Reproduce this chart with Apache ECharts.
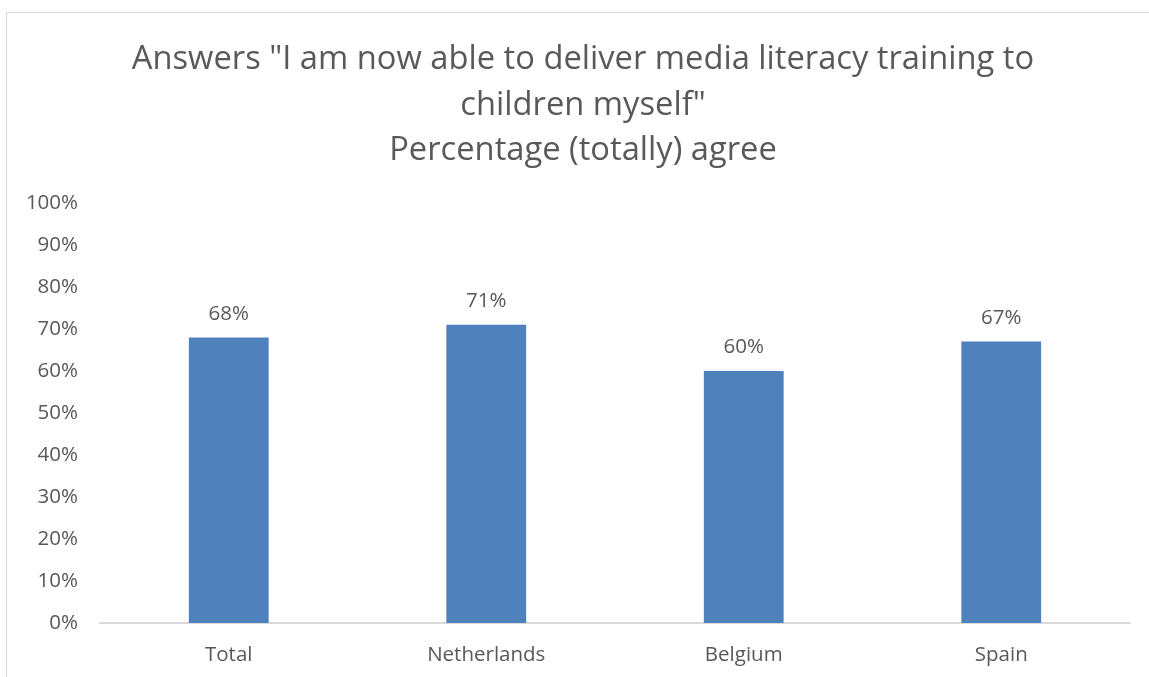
<!DOCTYPE html>
<html>
<head>
<meta charset="utf-8">
<script src="https://cdn.jsdelivr.net/npm/echarts@6/dist/echarts.min.js"></script>
<style>
  html, body { margin: 0; padding: 0; background: #fff; }
  #frame {
    position: absolute; left: 6px; top: 12px; width: 1160px; height: 700px;
    border: 1px solid #d9d9d9; box-sizing: border-box;
  }
  #chart { position: absolute; left: 0; top: 0; width: 1149px; height: 677px; }
</style>
</head>
<body>
<div id="frame"></div>
<div id="chart"></div>
<script>
// categories and values (share that (totally) agree)
const countries = ['Total', 'Netherlands', 'Belgium', 'Spain'];
const agreePct = [68, 71, 60, 67];

const titleLines = [
  'Answers "I am now able to deliver media literacy training to',
  'children myself"',
  'Percentage (totally) agree'
];

const font = '"Open Sans", sans-serif';
const grey = '#595959';
const labelSize = 20.5;

const chart = echarts.init(document.getElementById('chart'));
chart.setOption({
  animation: false,
  textStyle: { fontFamily: font },
  title: {
    text: titleLines.join('\n'),
    left: 578,
    top: 32,
    textAlign: 'center',
    textStyle: { fontFamily: font, fontSize: 32.7, fontWeight: 'normal', color: grey, lineHeight: 45.5 }
  },
  grid: { left: 100, right: 19, top: 203, bottom: 54, containLabel: false },
  xAxis: {
    type: 'category',
    data: countries,
    axisLine: { lineStyle: { color: '#d9d9d9', width: 2 } },
    axisTick: { show: false },
    axisLabel: { color: grey, fontSize: labelSize, margin: 22, fontFamily: font }
  },
  yAxis: {
    type: 'value',
    min: 0,
    max: 100,
    interval: 10,
    axisLine: { show: false },
    axisTick: { show: false },
    splitLine: { show: false },
    axisLabel: { color: grey, fontSize: labelSize, margin: 22, fontFamily: font, formatter: '{value}%' }
  },
  series: [{
    type: 'bar',
    data: agreePct,
    barWidth: '31%',
    itemStyle: { color: '#4f81bd' },
    label: {
      show: true,
      position: 'top',
      distance: 13,
      color: grey,
      fontSize: labelSize,
      fontFamily: font,
      formatter: '{c}%'
    }
  }]
});
</script>
</body>
</html>
